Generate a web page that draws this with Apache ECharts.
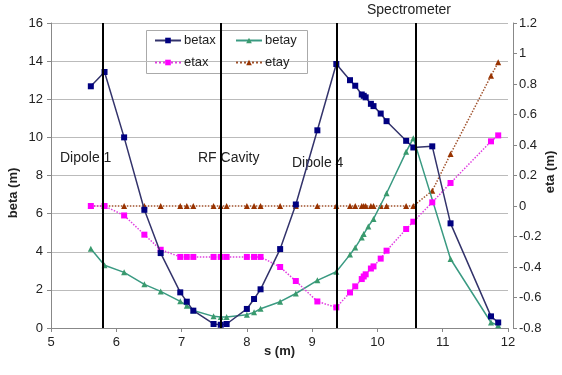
<!DOCTYPE html>
<html>
<head>
<meta charset="utf-8">
<script src="https://cdn.jsdelivr.net/npm/echarts@6/dist/echarts.min.js"></script>
<style>
  html, body { margin: 0; padding: 0; background: #fff; }
  #chart { width: 562px; height: 375px; }
</style>
</head>
<body>
<div id="chart"></div>
<script>
// s positions (m) shared by betax, etax, etay
const sMain = [5.61, 5.82, 6.12, 6.43, 6.68, 6.98, 7.08, 7.18, 7.49, 7.6, 7.69, 8.0, 8.11, 8.21,
  8.51, 8.75, 9.08, 9.37, 9.58, 9.66, 9.76, 9.79, 9.82, 9.9, 9.94, 10.05, 10.14, 10.44, 10.55,
  10.84, 11.12, 11.74, 11.85]
const betax = [12.68, 13.43, 10.0, 6.2, 3.93, 1.87, 1.38, 0.91, 0.21, 0.17, 0.21, 1.0, 1.52, 2.03,
  4.14, 6.48, 10.37, 13.85, 13.0, 12.71, 12.25, 12.18, 12.1, 11.76, 11.64, 11.25, 10.85, 9.82, 9.47,
  9.53, 5.49, 0.61, 0.29]
const etax = [0, 0, -0.062, -0.188, -0.287, -0.334, -0.334, -0.334, -0.334, -0.334, -0.334, -0.334,
  -0.334, -0.334, -0.40, -0.492, -0.626, -0.665, -0.567, -0.527, -0.479, -0.462, -0.448, -0.41,
  -0.396, -0.345, -0.293, -0.151, -0.103, 0.024, 0.151, 0.424, 0.463]
const etay = [0, 0, 0, 0, 0, 0, 0, 0, 0, 0, 0, 0, 0, 0, 0, 0, 0, 0, 0, 0, 0, 0, 0, 0, 0, 0, 0, 0, 0,
  0.10, 0.341, 0.854, 0.942]

// betay has its own positions
const sBetay = [5.61, 5.82, 6.12, 6.43, 6.68, 6.98, 7.08, 7.18, 7.49, 7.6, 7.69, 8.0, 8.11, 8.21,
  8.51, 8.75, 9.08, 9.37, 9.58, 9.66, 9.76, 9.79, 9.86, 9.94, 10.14, 10.44, 10.55, 11.12, 11.74, 11.85]
const betay = [4.16, 3.29, 2.92, 2.29, 1.92, 1.40, 1.17, 0.92, 0.61, 0.58, 0.58, 0.70, 0.82, 1.01,
  1.38, 1.81, 2.50, 2.95, 3.85, 4.22, 4.75, 4.93, 5.33, 5.72, 7.07, 9.24, 9.96, 3.62, 0.29, 0.14]

// element boundaries (vertical lines)
const boundaries = [5.8, 7.6, 9.37, 10.58]

const pairs = (xs, ys) => xs.map((x, i) => [x, ys[i]])

const font = 'Liberation Sans, Arial, sans-serif'
const chart = echarts.init(document.getElementById('chart'))

const legendItem = (name, left, top) => ({
  data: [name], left, top, itemWidth: 26, itemHeight: 7, itemGap: 0,
  textStyle: { fontFamily: font, fontSize: 13, color: '#222', padding: [0, 0, 0, -2] },
  padding: 0
})

chart.setOption({
  animation: false,
  grid: { left: 51, right: 54, top: 23, bottom: 47 },
  legend: [
    legendItem('betax', 154, 34),
    legendItem('betay', 235, 34),
    legendItem('etax', 154, 56),
    legendItem('etay', 235, 56)
  ],
  graphic: [
    { type: 'rect', left: 144, top: 28, shape: { width: 161, height: 43 },
      style: { fill: 'none', stroke: '#aaa', lineWidth: 1 }, z: 0 },
    { type: 'text', left: 60, top: 151, style: { text: 'Dipole 1', font: '14px ' + font, fill: '#222' } },
    { type: 'text', left: 198, top: 151, style: { text: 'RF Cavity', font: '14px ' + font, fill: '#222' } },
    { type: 'text', left: 292, top: 156, style: { text: 'Dipole 4', font: '14px ' + font, fill: '#222' } },
    { type: 'text', left: 367, top: 3, style: { text: 'Spectrometer', font: '14px ' + font, fill: '#222' } },
    { type: 'text', left: 264, top: 345, style: { text: 's (m)', font: 'bold 13px ' + font, fill: '#222' } },
    { type: 'text', x: 13, y: 193, rotation: Math.PI / 2,
      style: { text: 'beta (m)', font: 'bold 13px ' + font, fill: '#222', align: 'center', verticalAlign: 'middle' } },
    { type: 'text', x: 550, y: 172, rotation: Math.PI / 2,
      style: { text: 'eta (m)', font: 'bold 13px ' + font, fill: '#222', align: 'center', verticalAlign: 'middle' } }
  ],
  xAxis: {
    type: 'value', min: 5, max: 12, interval: 1,
    axisLine: { show: true, lineStyle: { color: '#888' } },
    axisTick: { show: true, length: 4, lineStyle: { color: '#888' } },
    axisLabel: { fontFamily: font, fontSize: 13, color: '#222', margin: 8 },
    splitLine: { show: false }
  },
  yAxis: [
    {
      type: 'value', min: 0, max: 16, interval: 2,
      axisLine: { show: true, lineStyle: { color: '#888' } },
      axisTick: { show: true, length: 4, lineStyle: { color: '#888' } },
      axisLabel: { fontFamily: font, fontSize: 13, color: '#222', margin: 8 },
      splitLine: { show: true, lineStyle: { color: '#bbb', width: 1 } }
    },
    {
      type: 'value', min: -0.8, max: 1.2, interval: 0.2, position: 'right', offset: 5,
      axisLine: { show: true, lineStyle: { color: '#888' } },
      axisTick: { show: true, length: 4, lineStyle: { color: '#888' } },
      axisLabel: { fontFamily: font, fontSize: 13, color: '#222', margin: 6,
        formatter: v => String(Math.round(v * 10) / 10) },
      splitLine: { show: false }
    }
  ],
  series: [
    {
      name: 'betax', type: 'line', yAxisIndex: 0, data: pairs(sMain, betax),
      symbol: 'rect', symbolSize: 6, z: 4,
      itemStyle: { color: '#000080' },
      lineStyle: { color: '#33336b', width: 1.5 },
      markLine: {
        silent: true, symbol: 'none', label: { show: false },
        lineStyle: { color: '#000', width: 2, type: 'solid' },
        data: boundaries.map(v => ({ xAxis: v }))
      }
    },
    {
      name: 'betay', type: 'line', yAxisIndex: 0, data: pairs(sBetay, betay),
      symbol: 'triangle', symbolSize: 6, z: 3,
      itemStyle: { color: '#3a9a6e' },
      lineStyle: { color: '#3a9a82', width: 1.5 }
    },
    {
      name: 'etax', type: 'line', yAxisIndex: 1, data: pairs(sMain, etax),
      symbol: 'rect', symbolSize: 6, z: 3,
      itemStyle: { color: '#ff00ff' },
      lineStyle: { color: '#e040e0', width: 1.5, type: 'dotted' }
    },
    {
      name: 'etay', type: 'line', yAxisIndex: 1, data: pairs(sMain, etay),
      symbol: 'triangle', symbolSize: 6, z: 2,
      itemStyle: { color: '#993300' },
      lineStyle: { color: '#a0522d', width: 1.5, type: 'dotted' }
    }
  ]
})
</script>
</body>
</html>
